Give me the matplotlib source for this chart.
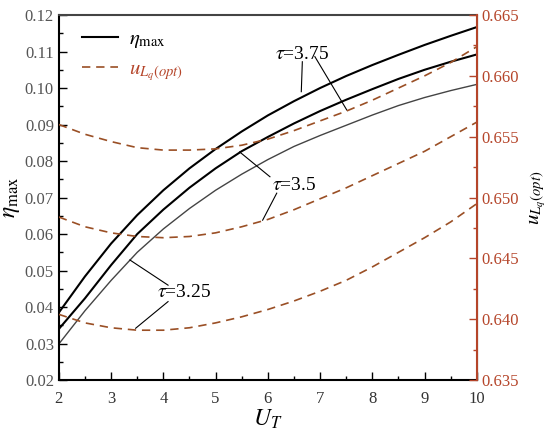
import matplotlib
matplotlib.use('Agg')
import matplotlib.pyplot as plt
from matplotlib.ticker import MultipleLocator, FormatStrFormatter

plt.rcParams['font.family'] = ['Liberation Serif', 'DejaVu Serif']
plt.rcParams['mathtext.fontset'] = 'stix'

# U_T grid
ut = [2, 2.5, 3, 3.5, 4, 4.5, 5, 5.5, 6, 6.5, 7, 7.5, 8, 8.5, 9, 9.5, 10]

# eta_max for tau = 3.75, 3.5, 3.25
eta_375 = [0.0385, 0.0484, 0.0574, 0.0652, 0.0720, 0.0780, 0.0833, 0.0881, 0.0925,
           0.0964, 0.1000, 0.1033, 0.1063, 0.1091, 0.1118, 0.1143, 0.1167]
eta_350 = [0.0340, 0.0424, 0.0515, 0.0600, 0.0667, 0.0727, 0.0780, 0.0827, 0.0866,
           0.0903, 0.0937, 0.0968, 0.0997, 0.1025, 0.1050, 0.1072, 0.1092]
eta_325 = [0.0299, 0.0390, 0.0473, 0.0550, 0.0614, 0.0670, 0.0720, 0.0764, 0.0804,
           0.0840, 0.0870, 0.0898, 0.0926, 0.0952, 0.0974, 0.0993, 0.1010]

# u_Lq(opt) for tau = 3.75, 3.5, 3.25
u_375 = [0.6560, 0.6552, 0.6546, 0.6541, 0.6539, 0.6539, 0.6540, 0.6543, 0.6548,
         0.6555, 0.6563, 0.6571, 0.6580, 0.6590, 0.6600, 0.6611, 0.6624]
u_350 = [0.6484, 0.6476, 0.6471, 0.6468, 0.6467, 0.6468, 0.6471, 0.6476, 0.6482,
         0.6490, 0.6499, 0.6508, 0.6518, 0.6528, 0.6538, 0.6550, 0.6562]
u_325 = [0.6404, 0.6397, 0.6393, 0.6391, 0.6391, 0.6393, 0.6397, 0.6402, 0.6408,
         0.6415, 0.6423, 0.6432, 0.6443, 0.6455, 0.6467, 0.6480, 0.6495]

red = '#b5452a'
dash_col = '#9a4f25'
dash = (0, (5, 3.5))

fig = plt.figure(figsize=(5.5, 4.29), dpi=100)
ax = fig.add_axes([0.107, 0.114, 0.760, 0.851])
ax2 = ax.twinx()

l1, = ax.plot(ut, eta_375, color='black', lw=1.5)
ax.plot(ut, eta_350, color='black', lw=1.5)
ax.plot(ut, eta_325, color='#444444', lw=1.0)

l2, = ax2.plot(ut, u_375, color=dash_col, lw=1.2, ls=dash)
ax2.plot(ut, u_350, color=dash_col, lw=1.2, ls=dash)
ax2.plot(ut, u_325, color=dash_col, lw=1.2, ls=dash)

ax.set_xlim(2, 10)
ax.set_ylim(0.02, 0.12)
ax2.set_ylim(0.635, 0.665)

ax.xaxis.set_major_locator(MultipleLocator(1))
ax.xaxis.set_minor_locator(MultipleLocator(0.5))
ax.yaxis.set_major_locator(MultipleLocator(0.01))
ax.yaxis.set_minor_locator(MultipleLocator(0.005))
ax2.yaxis.set_major_locator(MultipleLocator(0.005))
ax2.yaxis.set_minor_locator(MultipleLocator(0.0025))
ax.yaxis.set_major_formatter(FormatStrFormatter('%.2f'))
ax2.yaxis.set_major_formatter(FormatStrFormatter('%.3f'))

ax.tick_params(axis='both', which='both', direction='in', top=False)
ax.tick_params(which='major', length=6, width=1)
ax.tick_params(which='minor', length=3, width=1)
ax.tick_params(axis='y', labelsize=12, labelcolor='#555555')
ax.tick_params(axis='x', labelsize=12, labelcolor='#333333', pad=8)
ax2.tick_params(axis='y', which='both', direction='in', colors=red, labelsize=12)
ax2.tick_params(which='major', length=6, width=1)
ax2.tick_params(which='minor', length=3, width=1)

for s in ['left', 'bottom']:
    ax.spines[s].set_linewidth(1.5)
ax.spines['top'].set_color('#444444')
ax.spines['top'].set_linewidth(1.5)
ax2.spines['right'].set_color(red)
ax2.spines['right'].set_linewidth(1.5)
ax2.spines['left'].set_visible(False)
ax2.spines['top'].set_visible(False)
ax2.spines['bottom'].set_visible(False)

ax.set_xlabel(r'$U_T$', fontsize=17, labelpad=0)
ax.set_ylabel(r'$\eta_{\max}$', fontsize=17, labelpad=2)
ax2.set_ylabel(r'$\mathbf{\mathit{u}}_{L_q(opt)}$', fontsize=15, labelpad=6)

leg = ax.legend([l1, l2], [r'$\eta_{\max}$', r'$u_{L_q(opt)}$'], loc='upper left',
                frameon=False, fontsize=15, handlelength=1.75, handletextpad=0.5,
                labelspacing=0.45, borderpad=0, borderaxespad=0,
                bbox_to_anchor=(0.055, 0.96))
leg.get_texts()[1].set_color(red)

# annotations (text + leader lines)
ax.text(6.13, 0.1093, r'$\tau$=3.75', fontsize=14, va='center')
ax.plot([6.66, 6.64], [0.1072, 0.0990], color='black', lw=0.8)
ax.plot([6.90, 7.51], [0.1086, 0.0940], color='black', lw=0.8)

ax.text(6.08, 0.0733, r'$\tau$=3.5', fontsize=14, va='center')
ax.plot([6.04, 5.46], [0.0757, 0.0825], color='black', lw=0.8)
ax.plot([6.17, 5.90], [0.0712, 0.0638], color='black', lw=0.8)

ax.text(3.88, 0.0441, r'$\tau$=3.25', fontsize=14, va='center')
ax.plot([4.09, 3.36], [0.0460, 0.0529], color='black', lw=0.8)
ax.plot([4.09, 3.47], [0.0415, 0.0342], color='black', lw=0.8)

fig.savefig('out.png', dpi=100)
